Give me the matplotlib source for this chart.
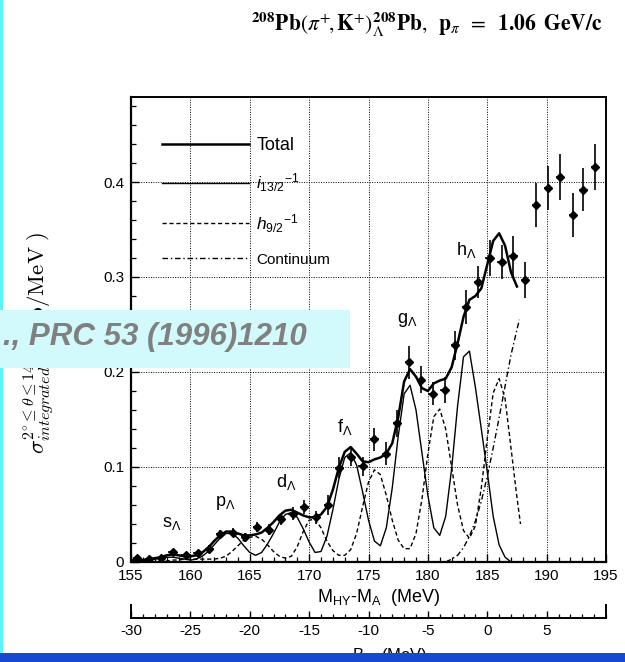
import matplotlib
matplotlib.use("Agg")
import matplotlib.pyplot as plt
from matplotlib.patches import Rectangle
from matplotlib.lines import Line2D
from matplotlib.ticker import MultipleLocator

plt.rcParams['font.family'] = ['Liberation Sans', 'DejaVu Sans']
plt.rcParams['mathtext.fontset'] = 'custom'
plt.rcParams['mathtext.rm'] = 'Liberation Sans'
plt.rcParams['mathtext.it'] = 'Liberation Sans:italic'
plt.rcParams['mathtext.bf'] = 'Liberation Sans:bold'

'''
Data (read off the scanned figure)
'''
# measured points
e_pts = [155.5, 156.5, 157.5, 158.5, 159.6, 160.6, 161.6, 162.5, 163.6, 164.6,
         165.6, 166.6, 167.6, 168.6, 169.6, 170.6, 171.6, 172.5, 173.5, 174.5,
         175.5, 176.5, 177.4, 178.4, 179.4, 180.4, 181.4, 182.3, 183.2, 184.2,
         185.2, 186.2, 187.2, 188.2, 189.1, 190.1, 191.1, 192.2, 193.1, 194.1]
sig_pts = [0.004, 0.003, 0.004, 0.010, 0.007, 0.009, 0.014, 0.029, 0.031, 0.026,
           0.037, 0.034, 0.045, 0.051, 0.058, 0.047, 0.060, 0.099, 0.111, 0.101,
           0.129, 0.114, 0.146, 0.210, 0.192, 0.177, 0.181, 0.228, 0.268, 0.295,
           0.320, 0.316, 0.322, 0.297, 0.376, 0.394, 0.405, 0.365, 0.392, 0.416]
err_pts = [0.002, 0.002, 0.002, 0.003, 0.003, 0.003, 0.004, 0.005, 0.005, 0.005,
           0.005, 0.006, 0.006, 0.007, 0.007, 0.007, 0.011, 0.011, 0.010, 0.010,
           0.012, 0.012, 0.014, 0.017, 0.014, 0.012, 0.014, 0.015, 0.018, 0.017,
           0.019, 0.018, 0.021, 0.019, 0.023, 0.023, 0.024, 0.023, 0.023, 0.024]

# Total fit
e_total = [155.0, 155.5, 156.0, 156.5, 157.0, 157.5, 158.0, 158.5, 159.0, 159.5,
           160.0, 160.5, 161.0, 161.5, 162.0, 162.5, 163.0, 163.5, 164.0, 164.5,
           165.0, 165.5, 166.0, 166.5, 167.0, 167.5, 168.0, 168.5, 169.0, 169.5,
           170.0, 170.5, 171.0, 171.5, 172.0, 172.5, 173.0, 173.5, 174.0, 174.5,
           175.0, 175.5, 176.0, 176.5, 177.0, 177.5, 178.0, 178.5, 179.0, 179.5,
           180.0, 180.5, 181.0, 181.5, 182.0, 182.5, 183.0, 183.5, 184.0, 184.5,
           185.0, 185.5, 186.0, 186.5, 187.0, 187.5]
total = [0.002, 0.002, 0.002, 0.003, 0.004, 0.005, 0.007, 0.008, 0.007, 0.006,
         0.006, 0.007, 0.010, 0.015, 0.022, 0.028, 0.032, 0.032, 0.030, 0.028,
         0.028, 0.029, 0.031, 0.036, 0.042, 0.049, 0.054, 0.055, 0.052, 0.049,
         0.047, 0.047, 0.050, 0.058, 0.076, 0.099, 0.116, 0.121, 0.114, 0.106,
         0.105, 0.108, 0.110, 0.114, 0.125, 0.152, 0.190, 0.203, 0.195, 0.183,
         0.180, 0.188, 0.191, 0.193, 0.205, 0.230, 0.258, 0.276, 0.280, 0.288,
         0.313, 0.338, 0.346, 0.333, 0.305, 0.290]

# i13/2^-1 component
e_i13 = [155.0, 155.5, 156.0, 156.5, 157.0, 157.5, 158.0, 158.5, 159.0, 159.5,
         160.0, 160.5, 161.0, 161.5, 162.0, 162.5, 163.0, 163.5, 164.0, 164.5,
         165.0, 165.5, 166.0, 166.5, 167.0, 167.5, 168.0, 168.5, 169.0, 169.5,
         170.0, 170.5, 171.0, 171.5, 172.0, 172.5, 173.0, 173.5, 174.0, 174.5,
         175.0, 175.5, 176.0, 176.5, 177.0, 177.5, 178.0, 178.5, 179.0, 179.5,
         180.0, 180.5, 181.0, 181.5, 182.0, 182.5, 183.0, 183.5, 184.0, 184.5,
         185.0, 185.5, 186.0, 186.5, 187.0]
i13 = [0.000, 0.000, 0.001, 0.002, 0.003, 0.004, 0.005, 0.005, 0.004, 0.003,
       0.002, 0.003, 0.006, 0.011, 0.018, 0.025, 0.030, 0.030, 0.025, 0.017,
       0.010, 0.007, 0.010, 0.019, 0.030, 0.042, 0.050, 0.052, 0.047, 0.035,
       0.021, 0.010, 0.011, 0.027, 0.055, 0.087, 0.110, 0.115, 0.102, 0.074,
       0.044, 0.022, 0.017, 0.036, 0.078, 0.132, 0.177, 0.186, 0.160, 0.115,
       0.070, 0.036, 0.028, 0.048, 0.098, 0.164, 0.216, 0.222, 0.184, 0.140,
       0.095, 0.048, 0.018, 0.005, 0.000]

# h9/2^-1 component
e_h9 = [155.0, 155.5, 156.0, 156.5, 157.0, 157.5, 158.0, 158.5, 159.0, 159.5,
        160.0, 160.5, 161.0, 161.5, 162.0, 162.5, 163.0, 163.5, 164.0, 164.5,
        165.0, 165.5, 166.0, 166.5, 167.0, 167.5, 168.0, 168.5, 169.0, 169.5,
        170.0, 170.5, 171.0, 171.5, 172.0, 172.5, 173.0, 173.5, 174.0, 174.5,
        175.0, 175.5, 176.0, 176.5, 177.0, 177.5, 178.0, 178.5, 179.0, 179.5,
        180.0, 180.5, 181.0, 181.5, 182.0, 182.5, 183.0, 183.5, 184.0, 184.5,
        185.0, 185.5, 186.0, 186.5, 187.0, 187.5, 187.8]
h9 = [0.000, 0.000, 0.000, 0.000, 0.000, 0.001, 0.001, 0.002, 0.002, 0.003,
      0.003, 0.003, 0.003, 0.003, 0.003, 0.004, 0.006, 0.011, 0.017, 0.023,
      0.026, 0.027, 0.024, 0.018, 0.011, 0.006, 0.004, 0.006, 0.016, 0.032,
      0.044, 0.045, 0.036, 0.022, 0.012, 0.007, 0.007, 0.013, 0.030, 0.058,
      0.084, 0.097, 0.092, 0.070, 0.044, 0.023, 0.014, 0.014, 0.030, 0.066,
      0.114, 0.153, 0.161, 0.140, 0.100, 0.060, 0.033, 0.025, 0.038, 0.078,
      0.130, 0.178, 0.193, 0.172, 0.120, 0.068, 0.040]

# continuum
e_cont = [181.5, 182.0, 182.5, 183.0, 183.5, 184.0, 184.5, 185.0, 185.5, 186.0,
          186.5, 187.0, 187.7]
cont = [0.000, 0.003, 0.007, 0.015, 0.027, 0.043, 0.064, 0.090, 0.120, 0.152,
        0.185, 0.218, 0.255]

# peak labels
peak_names = ["s", "p", "d", "f", "g", "h"]
peak_e = [158.4, 162.9, 168.1, 173.0, 178.3, 183.2]
peak_y = [0.041, 0.062, 0.084, 0.142, 0.255, 0.328]

x_ticks = [155, 160, 165, 170, 175, 180, 185, 190, 195]
y_ticks = [0, 0.1, 0.2, 0.3, 0.4]
y_labels = ["0", "0.1", "0.2", "0.3", "0.4"]
b_ticks = [-30, -25, -20, -15, -10, -5, 0, 5]

'''
Figure
'''
fig = plt.figure(figsize=(6.25, 6.62), dpi=100)
ax = fig.add_axes([0.2096, 0.1511, 0.7600, 0.7024])

ax.errorbar(e_pts, sig_pts, yerr=err_pts, xerr=0.35, fmt="D", color="black",
            markersize=4, elinewidth=1.2, capsize=0, zorder=5)
ax.plot(e_total, total, color="black", linewidth=1.8, zorder=4)
ax.plot(e_i13, i13, color="black", linewidth=1.0, zorder=3)
ax.plot(e_h9, h9, color="black", linewidth=1.0, linestyle=(0, (3, 2)), zorder=3)
ax.plot(e_cont, cont, color="black", linewidth=1.0, linestyle=(0, (4, 2, 1, 2)), zorder=3)

for name, pe, py in zip(peak_names, peak_e, peak_y):
    ax.text(pe, py, name + r"$_{\Lambda}$", fontsize=13, ha="center", va="center")

ax.set_xlim(155, 195)
ax.set_ylim(0, 0.4895)
ax.set_xticks(x_ticks)
ax.set_xticklabels([str(t) for t in x_ticks], fontsize=11)
ax.set_yticks(y_ticks)
ax.set_yticklabels(y_labels, fontsize=11)
ax.xaxis.set_minor_locator(MultipleLocator(1))
ax.yaxis.set_minor_locator(MultipleLocator(0.02))
ax.tick_params(which="both", direction="in", top=False, right=False)
ax.tick_params(which="major", length=6, width=1.0, pad=5)
ax.tick_params(which="minor", length=3.5, width=0.9)
ax.grid(True, which="major", linestyle=(0, (1, 1.5)), color="black", linewidth=0.7)
for s in ["left", "bottom"]:
    ax.spines[s].set_linewidth(1.6)
for s in ["top", "right"]:
    ax.spines[s].set_linewidth(1.4)

handles = [Line2D([], [], color="black", linewidth=1.8),
           Line2D([], [], color="black", linewidth=1.0),
           Line2D([], [], color="black", linewidth=1.0, linestyle=(0, (3, 2))),
           Line2D([], [], color="black", linewidth=1.0, linestyle=(0, (4, 2, 1, 2)))]
labels = ["Total", r"$i_{\mathregular{13/2}}{}^{\mathregular{-1}}$",
          r"$h_{\mathregular{9/2}}{}^{\mathregular{-1}}$", "Continuum"]
leg = ax.legend(handles, labels, loc="upper left", bbox_to_anchor=(0.065, 0.914),
                frameon=False, fontsize=12.5, handlelength=5.0, handletextpad=0.45,
                borderpad=0, borderaxespad=0, labelspacing=1.02)
leg.get_texts()[0].set_fontsize(13)
leg.get_texts()[3].set_fontsize(11)

# binding energy axis
ax2 = fig.add_axes([0.2096, 0.0665, 0.7600, 0.0196])
ax2.set_xlim(-30, 10)
ax2.set_xticks(b_ticks)
ax2.set_xticklabels([str(t) for t in b_ticks], fontsize=11)
ax2.xaxis.set_minor_locator(MultipleLocator(1))
ax2.set_yticks([])
ax2.patch.set_visible(False)
ax2.spines["top"].set_visible(False)
for s in ["left", "right", "bottom"]:
    ax2.spines[s].set_linewidth(1.4)
ax2.tick_params(which="both", direction="in", top=False)
ax2.tick_params(which="major", length=5, width=1.0, pad=4)
ax2.tick_params(which="minor", length=3, width=0.9)

fig.text(0.605, 1 - 597 / 662, r"M$_{\mathregular{HY}}$-M$_{\mathregular{A}}$  (MeV)",
         fontsize=13, ha="center", va="center")
fig.text(0.62, 1 - 646 / 662, r"-B$_{\Lambda}$  (MeV)", fontsize=12, ha="center", va="top")

fig.text(0.062, 1 - 343 / 662,
         r"$\sigma^{2^{\circ}\leq\theta\leq14^{\circ}}_{integrated}\ \ (\mu\mathrm{b/MeV}\ )$",
         math_fontfamily="cm", fontsize=16.5, rotation=90, ha="center", va="center")

fig.text(603 / 625, 1 - 24 / 662,
         r"$^{\mathbf{208}}\mathbf{Pb}(\pi^{+}\!,\mathbf{K}^{+})^{\mathbf{208}}_{\Lambda}\mathbf{Pb},\;\; "
         r"\mathbf{p}_{\pi}\;\; =\;\; \mathbf{1.06}\;\; \mathbf{GeV/c}$",
         math_fontfamily="stix", fontsize=15.5, ha="right", va="center")

# frame decorations of the slide
fig.patches.append(Rectangle((0, 0), 0.0055, 1, transform=fig.transFigure,
                             facecolor="#5cf2fa", edgecolor="none", zorder=10))
fig.patches.append(Rectangle((0, 0), 1, 9 / 662, transform=fig.transFigure,
                             facecolor="#1748d0", edgecolor="none", zorder=10))
fig.patches.append(Rectangle((0, 1 - 368 / 662), 0.56, 58 / 662, transform=fig.transFigure,
                             facecolor="#d2f9fb", edgecolor="none", zorder=10))
fig.text(307 / 625, 1 - 337 / 662, "., PRC 53 (1996)1210", fontsize=22.5,
         fontweight="bold", fontstyle="italic", color="#808080",
         ha="right", va="center", zorder=11)

fig.savefig("out.png", dpi=100)
